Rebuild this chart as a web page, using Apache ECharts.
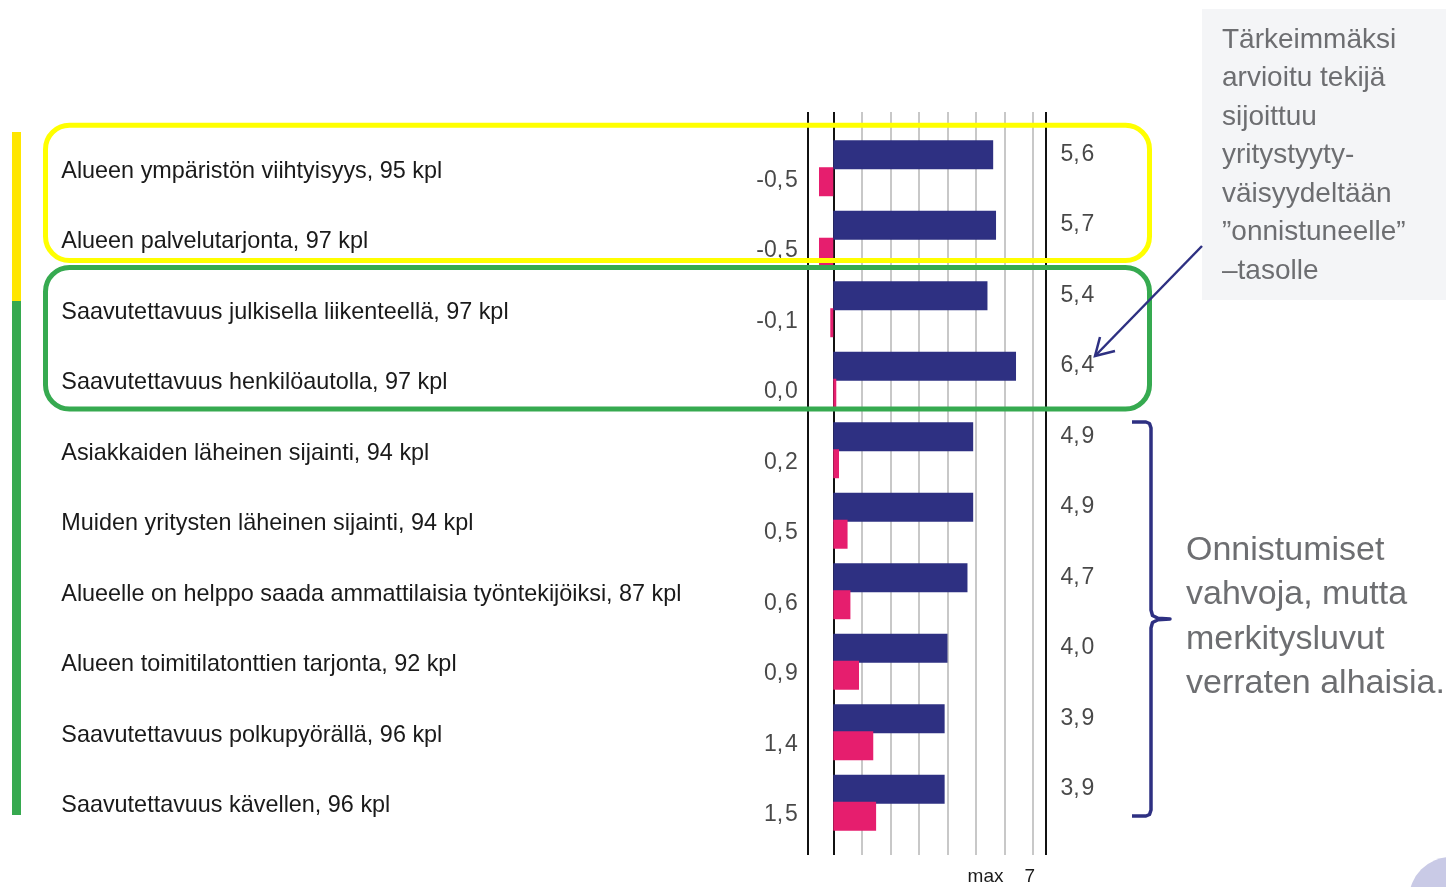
<!DOCTYPE html>
<html><head><meta charset="utf-8">
<script src="https://cdn.jsdelivr.net/npm/echarts@6/dist/echarts.min.js"></script>
<style>html,body{margin:0;padding:0;background:#fff}#c{width:1446px;height:887px}</style>
</head><body><div id="c"></div>
<script>
const categories = [
  'Alueen ympäristön viihtyisyys, 95 kpl',
  'Alueen palvelutarjonta, 97 kpl',
  'Saavutettavuus julkisella liikenteellä, 97 kpl',
  'Saavutettavuus henkilöautolla, 97 kpl',
  'Asiakkaiden läheinen sijainti, 94 kpl',
  'Muiden yritysten läheinen sijainti, 94 kpl',
  'Alueelle on helppo saada ammattilaisia työntekijöiksi, 87 kpl',
  'Alueen toimitilatonttien tarjonta, 92 kpl',
  'Saavutettavuus polkupyörällä, 96 kpl',
  'Saavutettavuus kävellen, 96 kpl'
];
const importance = [5.6, 5.7, 5.4, 6.4, 4.9, 4.9, 4.7, 4.0, 3.9, 3.9];
const difference = [-0.5, -0.5, -0.1, 0.0, 0.2, 0.5, 0.6, 0.9, 1.4, 1.5];
const gridTicks = [1, 2, 3, 4, 5, 6, 7];
const maxTick = 7;
const maxLabel = 'max';
const noteTop = 'Tärkeimmäksi\narvioitu tekijä\nsijoittuu\nyritystyyty-\nväisyydeltään\n”onnistuneelle”\n–tasolle';
const noteBottom = 'Onnistumiset\nvahvoja, mutta\nmerkitysluvut\nverraten alhaisia.';

const X_MIN = -0.91, X_MAX = 7.45;
const NAVY = '#2E3082', PINK = '#E61E6E', FONT = '"Liberation Sans", Arial, sans-serif';
const fmt = v => v.toFixed(1).replace('.', ',\u200A');

const chart = echarts.init(document.getElementById('c'), null, {renderer: 'canvas'});
const blackLine = {color: '#111', width: 2, type: 'solid'};
const grayLine = {color: '#c8c8c8', width: 2, type: 'solid'};

chart.setOption({
  animation: false,
  backgroundColor: '#fff',
  textStyle: {fontFamily: FONT},
  grid: [
    {left: 807.3, right: 400, top: 112, bottom: 32},
    {left: 807.3, right: 400, top: 133, bottom: 49}
  ],
  xAxis: [
    {gridIndex: 0, type: 'value', min: X_MIN, max: X_MAX,
     axisLine: {show: false}, axisTick: {show: false}, splitLine: {show: false},
     axisLabel: {show: true, customValues: [maxTick], formatter: v => maxLabel + '    ' + v,
       align: 'right', margin: 12, fontSize: 19, color: '#1a1a1a', fontFamily: FONT, padding: [0, -2, 0, 0]}},
    {gridIndex: 1, type: 'value', min: X_MIN, max: X_MAX, show: false, splitLine: {show: false}}
  ],
  yAxis: [
    {gridIndex: 0, type: 'value', min: 0, max: 1, show: false, splitLine: {show: false}},
    {gridIndex: 1, type: 'category', data: categories, inverse: true,
     axisLine: {show: false}, axisTick: {show: false}, splitLine: {show: false},
     axisLabel: {interval: 0, align: 'left', margin: 746, fontSize: 23.4, color: '#1a1a1a', fontFamily: FONT,
       formatter: v => '{c|' + v + '}',
       rich: {c: {fontSize: 23.4, color: '#1a1a1a', fontFamily: FONT, padding: [6, 0, 0, 0]}}}}
  ],
  series: [
    {type: 'line', xAxisIndex: 0, yAxisIndex: 0, data: [[0, 0]], showSymbol: false, symbol: 'none',
     lineStyle: {opacity: 0}, silent: true, z: 1, zlevel: 0,
     markLine: {symbol: 'none', silent: true, z: 1, label: {show: false}, animation: false,
       data: gridTicks.map(v => ({xAxis: v, lineStyle: grayLine}))
         .concat([{xAxis: X_MIN, lineStyle: blackLine}, {xAxis: 0, lineStyle: blackLine}, {xAxis: X_MAX, lineStyle: blackLine}])}},
    {name: 'Merkitys', type: 'bar', xAxisIndex: 1, yAxisIndex: 1, data: importance,
     barWidth: 29, barGap: '-7%', itemStyle: {color: NAVY}, z: 20},
    {name: 'Ero', type: 'bar', xAxisIndex: 1, yAxisIndex: 1, data: difference,
     barWidth: 29, barGap: '-7%', barMinHeight: 3, itemStyle: {color: PINK}, z: 21},
    {type: 'scatter', xAxisIndex: 1, yAxisIndex: 1, symbolSize: 1, itemStyle: {color: 'rgba(0,0,0,0)'}, silent: true, z: 30,
     data: difference.map((v, i) => [X_MIN, categories[i], v]),
     label: {show: true, position: 'left', distance: 9, offset: [0, 12], formatter: p => fmt(p.value[2]),
       fontSize: 23, color: '#1a1a1a', fontFamily: FONT}},
    {type: 'scatter', xAxisIndex: 1, yAxisIndex: 1, symbolSize: 1, itemStyle: {color: 'rgba(0,0,0,0)'}, silent: true, z: 30,
     data: importance.map((v, i) => [X_MAX, categories[i], v]),
     label: {show: true, position: 'right', distance: 14, offset: [0, -14], formatter: p => fmt(p.value[2]),
       fontSize: 23, color: '#1a1a1a', fontFamily: FONT}}
  ],
  graphic: [
    {type: 'rect', z: 100, shape: {x: 12, y: 132, width: 9, height: 169}, style: {fill: '#FFE600'}},
    {type: 'rect', z: 100, shape: {x: 12, y: 301, width: 9, height: 514}, style: {fill: '#36A94F'}},
    {type: 'rect', z: 100, shape: {x: 45.5, y: 125.3, width: 1104, height: 135.3, r: 24},
     style: {fill: null, stroke: '#FFFF00', lineWidth: 5}},
    {type: 'rect', z: 100, shape: {x: 45.5, y: 267.5, width: 1104, height: 141.5, r: 24},
     style: {fill: null, stroke: '#36AA50', lineWidth: 5}},
    {type: 'rect', z: 90, shape: {x: 1202, y: 9, width: 260, height: 291}, style: {fill: '#F4F5F7'}},
    {type: 'text', z: 101, x: 1222, y: 21, style: {text: noteTop, fill: '#6D6E71', font: '28px ' + FONT, lineHeight: 38.5}},
    {type: 'line', z: 102, shape: {x1: 1202, y1: 246, x2: 1095, y2: 356}, style: {stroke: NAVY, lineWidth: 2.5}},
    {type: 'polyline', z: 102, shape: {points: [[1100, 337], [1095, 356], [1115, 351]]},
     style: {stroke: NAVY, lineWidth: 2.5, fill: null}},
    {type: 'polyline', z: 102, shape: {points: [[1132, 422], [1146, 422], [1149.5, 423.5], [1151, 428], [1151, 610],
       [1152.5, 615.5], [1158, 618.3], [1170, 619], [1158, 619.7], [1152.5, 622.5], [1151, 628], [1151, 810],
       [1149.5, 814.5], [1146, 816], [1132, 816]]},
     style: {stroke: NAVY, lineWidth: 3.5, fill: null, lineJoin: 'round'}},
    {type: 'text', z: 101, x: 1186, y: 528, style: {text: noteBottom, fill: '#6D6E71', font: '34px ' + FONT, lineHeight: 44.5}},
    {type: 'circle', z: 100, shape: {cx: 1451, cy: 899, r: 42}, style: {fill: '#C9CAE6'}}
  ]
});
</script></body></html>
